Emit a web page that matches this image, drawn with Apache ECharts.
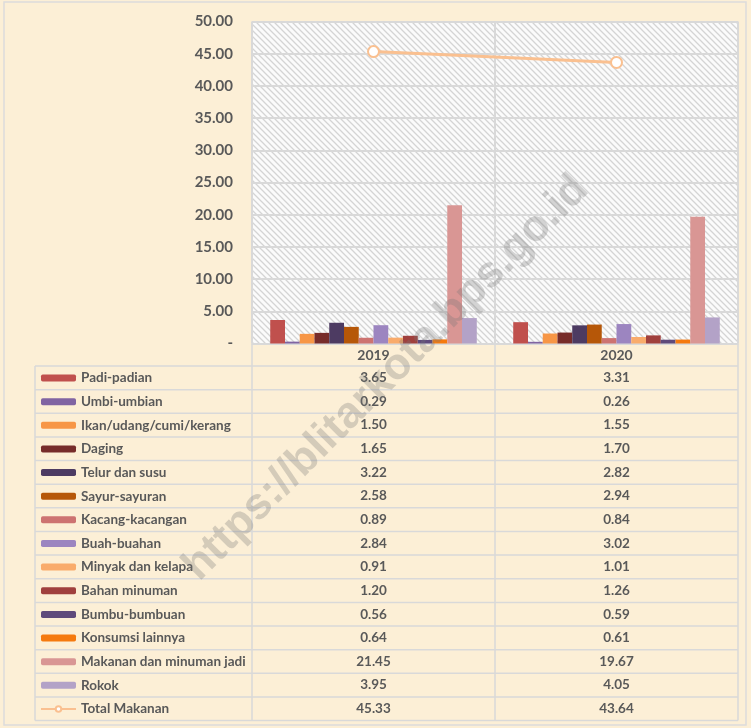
<!DOCTYPE html>
<html>
<head>
<meta charset="utf-8">
<script src="https://cdn.jsdelivr.net/npm/echarts@6/dist/echarts.min.js"></script>
<style>
  html, body { margin: 0; padding: 0; background: #fcefd6; }
  #chart { width: 751px; height: 728px; }
</style>
</head>
<body>
<div id="chart"></div>
<script>
const years = ["2019", "2020"];

const groups = [
  "Padi-padian",
  "Umbi-umbian",
  "Ikan/udang/cumi/kerang",
  "Daging",
  "Telur dan susu",
  "Sayur-sayuran",
  "Kacang-kacangan",
  "Buah-buahan",
  "Minyak dan kelapa",
  "Bahan minuman",
  "Bumbu-bumbuan",
  "Konsumsi lainnya",
  "Makanan dan minuman jadi",
  "Rokok",
];

const values2019 = [3.65, 0.29, 1.50, 1.65, 3.22, 2.58, 0.89, 2.84, 0.91, 1.20, 0.56, 0.64, 21.45, 3.95];
const values2020 = [3.31, 0.26, 1.55, 1.70, 2.82, 2.94, 0.84, 3.02, 1.01, 1.26, 0.59, 0.61, 19.67, 4.05];

const totalName = "Total Makanan";
const totalValues = [45.33, 43.64];

const barColors = [
  "#c0504d", "#8064a2", "#f79646", "#772c2a", "#4d3b62", "#b65708", "#cd7371",
  "#9c85c0", "#f9ab6b", "#a0403d", "#5f4a7b", "#f57a0f", "#d99694", "#b3a2c7",
];
const lineColor = "#fac090";

// layout
const gridLeft = 252;
const gridTop = 21.5;
const gridWidth = 486;
const gridHeight = 322;
const tableLeft = 35;
const rowHeight = 23.64;
const headerBottom = 366;

const textColor = "#595959";
const ruleColor = "#d9d9d9";
const font = "Lato";


function hatchPattern() {
  const size = 6;
  const canvas = document.createElement("canvas");
  canvas.width = size;
  canvas.height = size;
  const ctx = canvas.getContext("2d");
  ctx.fillStyle = "#fbfbfb";
  ctx.fillRect(0, 0, size, size);
  ctx.strokeStyle = "#d4d4d4";
  ctx.lineWidth = 1.3;
  ctx.beginPath();
  ctx.moveTo(-1, -1);
  ctx.lineTo(size + 1, size + 1);
  ctx.moveTo(-1, size - 1);
  ctx.lineTo(1, size + 1);
  ctx.moveTo(size - 1, -1);
  ctx.lineTo(size + 1, 1);
  ctx.stroke();
  return canvas;
}


function tableGraphics() {
  const items = [];
  const colWidth = gridWidth / years.length;
  const gridBottom = gridTop + gridHeight;
  const rowCount = groups.length + 1;
  const tableBottom = headerBottom + rowCount * rowHeight;
  const lineStyle = { stroke: ruleColor, lineWidth: 1.5 };

  // horizontal rules
  for (let r = 0; r <= rowCount; r++) {
    const y = headerBottom + r * rowHeight;
    items.push({
      type: "line",
      shape: { x1: tableLeft, y1: y, x2: gridLeft + gridWidth, y2: y },
      style: lineStyle,
    });
  }

  // vertical rules
  items.push({
    type: "line",
    shape: { x1: tableLeft, y1: headerBottom, x2: tableLeft, y2: tableBottom },
    style: lineStyle,
  });
  for (let c = 0; c <= years.length; c++) {
    const x = gridLeft + c * colWidth;
    items.push({
      type: "line",
      shape: { x1: x, y1: gridBottom, x2: x, y2: tableBottom },
      style: lineStyle,
    });
  }

  // values
  const columns = [values2019, values2020];
  for (let c = 0; c < years.length; c++) {
    const rowValues = columns[c].concat([totalValues[c]]);
    rowValues.forEach((value, r) => {
      items.push({
        type: "text",
        x: gridLeft + colWidth * (c + 0.5),
        y: headerBottom + rowHeight * (r + 0.5),
        style: {
          text: value.toFixed(2),
          fill: textColor,
          font: `bold 13.5px ${font}`,
          align: "center",
          verticalAlign: "middle",
        },
      });
    });
  }

  // outer frame and watermark
  items.push({
    type: "rect",
    shape: { x: 4, y: 2, width: 742, height: 723 },
    style: { fill: null, stroke: "#dcdcdc", lineWidth: 1.5 },
  });
  items.push({
    type: "text",
    x: 386,
    y: 378,
    rotation: Math.PI / 4,
    z: 100,
    style: {
      text: "https://blitarkota.bps.go.id",
      fill: "rgba(120,120,120,0.3)",
      font: `bold 44px "Liberation Sans"`,
      align: "center",
      verticalAlign: "middle",
    },
  });

  return items;
}


const chart = echarts.init(document.getElementById("chart"));

const barSeries = groups.map((name, i) => {
  return {
    name,
    type: "bar",
    data: [values2019[i], values2020[i]],
    itemStyle: { color: barColors[i] },
    barGap: "0%",
    barCategoryGap: "15%",
  };
});

chart.setOption({
  animation: false,
  backgroundColor: "#fcefd6",
  textStyle: { fontFamily: font },
  grid: {
    left: gridLeft,
    top: gridTop,
    width: gridWidth,
    height: gridHeight,
    show: true,
    borderWidth: 0,
    backgroundColor: { image: hatchPattern(), repeat: "repeat" },
  },
  legend: {
    orient: "vertical",
    left: tableLeft + 5,
    top: headerBottom,
    padding: 0,
    itemWidth: 35,
    itemHeight: 7,
    itemGap: rowHeight - 24,
    textStyle: {
      color: textColor,
      fontWeight: "bold",
      fontSize: 13.5,
      fontFamily: font,
      lineHeight: 24,
    },
    data: groups.concat([totalName]),
  },
  xAxis: {
    type: "category",
    data: years,
    axisLine: { lineStyle: { color: ruleColor, width: 1.5 } },
    axisTick: { show: false },
    axisLabel: {
      color: textColor,
      fontWeight: "bold",
      fontSize: 14,
      margin: 5,
    },
    splitLine: { show: true, lineStyle: { color: ruleColor, width: 2 } },
  },
  yAxis: {
    type: "value",
    min: 0,
    max: 50,
    interval: 5,
    axisLine: { show: false },
    axisTick: { show: false },
    axisLabel: {
      color: textColor,
      fontWeight: "bold",
      fontSize: 15,
      margin: 19,
      formatter: (value) => (value === 0 ? "-" : value.toFixed(2)),
    },
    splitLine: { lineStyle: { color: ruleColor, width: 2 } },
  },
  series: barSeries.concat([
    {
      name: totalName,
      type: "line",
      data: totalValues,
      symbol: "circle",
      symbolSize: 11,
      lineStyle: { color: lineColor, width: 3 },
      itemStyle: { color: "#ffffff", borderColor: lineColor, borderWidth: 2 },
      z: 5,
    },
  ]),
  graphic: tableGraphics(),
});
</script>
</body>
</html>
